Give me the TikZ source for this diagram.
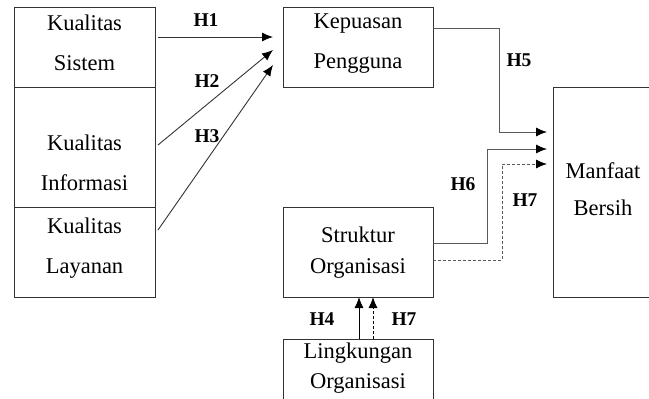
\documentclass[tikz,border=0pt]{standalone}
\usepackage{fontspec}
\setmainfont{Liberation Serif}
\usetikzlibrary{arrows.meta}
\usepackage{xcolor}
\definecolor{boxgray}{rgb}{0.2,0.2,0.2}
\definecolor{linegray}{rgb}{0.35,0.35,0.35}

\begin{document}
\begin{tikzpicture}[box/.style={draw=boxgray, line width=1pt, inner sep=0pt, outer sep=0pt},txt/.style={align=center, inner sep=0pt, font=\fontsize{22.5}{40}\selectfont},hyp/.style={font=\fontsize{19.5}{22}\selectfont\bfseries, inner sep=0pt},link/.style={draw=linegray, line width=0.9pt, -{Latex[length=11pt,width=9pt,color=black]}},x=1pt,y=-1pt]
\clip(0,0) rectangle (649,399);
\node[box, minimum width=141, minimum height=80] (sis) at (84.5,47) {};
\node[box, minimum width=141, minimum height=120] (inf) at (84.5,147) {};
\node[box, minimum width=141, minimum height=90] (lay) at (84.5,252) {};
\node[box, minimum width=150, minimum height=80] (kep) at (358,47) {};
\node[box, minimum width=150, minimum height=90] (str) at (358,252) {};
\node[box, minimum width=150, minimum height=90] (lin) at (358,384) {};
\node[box, minimum width=160, minimum height=210] (man) at (633,192) {};
\node[txt] (sist) at (84.5,43) {Kualitas\\Sistem};
\node[txt] (inft) at (84.5,163) {Kualitas\\Informasi};
\node[txt] (layt) at (84.5,248) {Kualitas\\Layanan};
\node[txt] (kept) at (358,44) {Kepuasan\\Pengguna};
\node[txt, font=\fontsize{22.5}{31}\selectfont] (strt) at (358,253) {Struktur\\Organisasi};
\node[txt, font=\fontsize{22.5}{30}\selectfont] (lint) at (358,368) {Lingkungan\\Organisasi};
\node[txt, font=\fontsize{22.5}{37}\selectfont] (mant) at (603,189) {Manfaat\\Bersih};
% hypotheses
\draw [link, draw=boxgray] ([xshift=3pt,yshift=10pt]sis.east) -- ([xshift=-10pt,yshift=10pt]kep.west);
\draw [link, draw=boxgray] ([xshift=3pt,yshift=2pt]inf.east) -- ([xshift=-10pt,yshift=-3pt]kep.west);
\draw [link, draw=boxgray] ([xshift=3pt,yshift=22pt]lay.east) -- ([xshift=-10pt,yshift=-18pt]kep.west);
\draw [link] ([yshift=19pt]kep.east) -- ++(66,0) |- ([xshift=-6pt,yshift=60pt]man.west);
\draw [link] ([yshift=9pt]str.east) -- ++(54,0) |- ([xshift=-6pt,yshift=43pt]man.west);
\draw [link, dash pattern=on 3pt off 2pt] ([yshift=-8pt]str.east) -- ++(69,0) |- ([xshift=-6pt,yshift=28pt]man.west);
\draw [link, draw=black] ([xshift=1pt]lin.north) -- ([xshift=1pt]str.south);
\draw [link, draw=black, dash pattern=on 3pt off 2pt] ([xshift=15pt]lin.north) -- ([xshift=15pt]str.south);
\node[hyp] (h1) at (206,20) {H1};
\node[hyp] (h2) at (207,81) {H2};
\node[hyp] (h3) at (207,136) {H3};
\node[hyp] (h5) at (519,60) {H5};
\node[hyp] (h6) at (463,184) {H6};
\node[hyp] (h7a) at (525,200) {H7};
\node[hyp] (h4) at (322,319) {H4};
\node[hyp] (h7b) at (404,319) {H7};
\end{tikzpicture}
\end{document}
